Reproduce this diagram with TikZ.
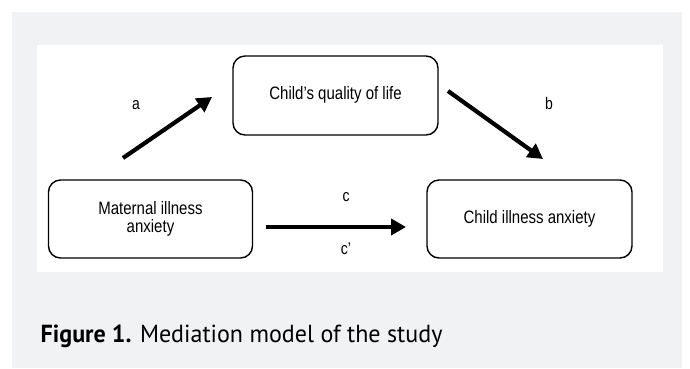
\documentclass[tikz,border=0pt]{standalone}
\usepackage{fontspec}
\setmainfont{Liberation Sans}
\newfontfamily\capfont{PT Sans}
\usetikzlibrary{arrows.meta}
\definecolor{panelgray}{HTML}{F1F2F4}
\newcommand{\tallText}[1]{\scalebox{1}[1.2]{\begin{tabular}{@{}c@{}}#1\end{tabular}}}
\begin{document}
\begin{tikzpicture}[x=1pt,y=-1pt,
  box/.style={draw, line width=1.4pt, rounded corners=12pt, align=center,
    font=\fontsize{15}{12.5}\selectfont, inner sep=0pt},
  lbl/.style={font=\fontsize{14}{16}\selectfont, inner sep=0pt},
  arr/.style={line width=4.2pt, -{Triangle[length=15pt,width=16pt]}}]
\useasboundingbox (0,0) rectangle (690,368);
\fill[panelgray] (12,12) rectangle (682,368);
\fill[white] (37,45) rectangle (663,272);
\node[box, minimum width=205pt, minimum height=79pt] (q) at (335.5,95.5) {\tallText{Child’s quality of life}};
\node[box, minimum width=204pt, minimum height=78pt] (m) at (150.5,219) {\tallText{Maternal illness\\anxiety}};
\node[box, minimum width=205pt, minimum height=78pt] (c) at (529.5,219) {\tallText{Child illness anxiety}};
\coordinate (a1) at (123,158);
\coordinate (a2) at (212,97);
\coordinate (b1) at (448,91);
\coordinate (b2) at (543,159);
\coordinate (c1) at (266,227);
\coordinate (c2) at (406,227);
\draw[arr] (a1) -- (a2);
\draw[arr] (b1) -- (b2);
\draw[arr] (c1) -- (c2);
\node[lbl] (la) at (136,105) {\scalebox{1}[1.2]{a}};
\node[lbl] (lb) at (549,103) {\scalebox{1}[1.2]{b}};
\node[lbl] (lc) at (346,197) {\scalebox{1}[1.2]{c}};
\node[lbl] (lcp) at (346,249) {\scalebox{1}[1.2]{c’}};
\node[anchor=base west, inner sep=0pt, font=\capfont\fontsize{24.7}{28}\selectfont] (cap) at (40.5,342) {\scalebox{0.973}[1]{\textbf{Figure 1.} Mediation model of the study}};
\end{tikzpicture}
\end{document}
